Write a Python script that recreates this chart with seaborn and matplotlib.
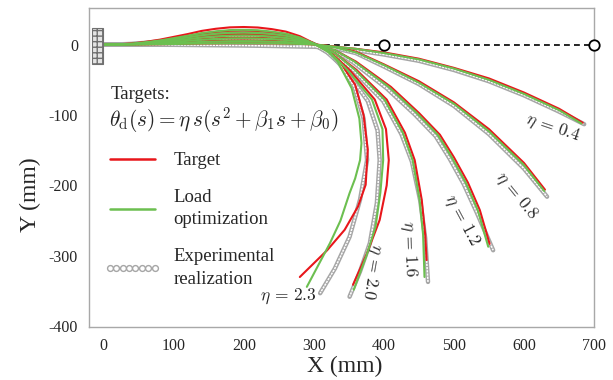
import numpy as np
import pandas as pd
import matplotlib
matplotlib.use("Agg")
import matplotlib.pyplot as plt
import seaborn as sns
from matplotlib.lines import Line2D
from matplotlib.patches import Rectangle

# ========================
# DATA (mm)
# ========================
ETAS = [0.4, 0.8, 1.2, 1.6, 2.0, 2.3]
BUMP_X = [0, 20, 40, 60, 80, 100, 120, 140, 160, 180, 200, 220, 240, 260, 280, 300]

# target curves (red)
target_bump = {
    0.4: [0, 0, 0.1, 0.3, 0.6, 0.9, 1.2, 1.6, 1.8, 2, 2, 1.9, 1.8, 1.5, 1, 0.2],
    0.8: [0, 0.1, 0.4, 1, 1.7, 2.6, 3.6, 4.7, 5.4, 5.9, 6, 5.8, 5.3, 4.4, 2.9, 0.5],
    1.2: [0, 0.2, 0.6, 1.6, 2.8, 4.4, 6, 7.8, 9, 9.8, 10, 9.7, 8.8, 7.4, 4.8, 0.8],
    1.6: [0, 0.3, 0.9, 2.4, 4.2, 6.6, 9, 11.7, 13.5, 14.7, 15, 14.6, 13.2, 11.1, 7.2, 1.2],
    2.0: [0, 0.4, 1.2, 3.2, 5.6, 8.8, 12, 15.6, 18, 19.6, 20, 19.4, 17.6, 14.8, 9.6, 1.6],
    2.3: [0, 0.5, 1.5, 4, 7, 11, 15, 19.5, 22.5, 24.5, 25, 24.3, 22, 18.5, 12, 2],
}
target_tail_x = {
    0.4: [330, 360, 400, 450, 500, 550, 600, 650, 684],
    0.8: [330, 360, 400, 450, 500, 550, 600, 630],
    1.2: [330, 360, 410, 450, 480, 500, 520, 537, 551],
    1.6: [330, 361, 404, 430, 444, 454, 459, 461],
    2.0: [325, 351, 387, 403, 407, 404, 394, 376, 356],
    2.3: [322, 337, 359, 371, 377, 374, 363, 344, 319, 280],
}
target_tail_y = {
    0.4: [-3, -6, -11, -20, -33, -48, -68, -91, -111],
    0.8: [-3, -10, -28, -52, -82, -120, -168, -206],
    1.2: [-8, -24, -60, -97, -128, -160, -196, -235, -283],
    1.6: [-12, -36, -78, -125, -164, -220, -270, -306],
    2.0: [-12, -36, -78, -120, -164, -200, -249, -296, -341],
    2.3: [-10, -24, -57, -100, -149, -199, -230, -263, -292, -330],
}

# load optimization curves (green)
load_bump = {
    0.4: [0, 0, 0.1, 0.3, 0.6, 0.9, 1.2, 1.6, 1.8, 2, 2, 1.9, 1.8, 1.5, 1, 0.2],
    0.8: [0, 0.1, 0.3, 0.8, 1.4, 2.2, 3, 3.9, 4.5, 4.9, 5, 4.9, 4.4, 3.7, 2.4, 0.4],
    1.2: [0, 0.2, 0.5, 1.4, 2.5, 4, 5.4, 7, 8.1, 8.8, 9, 8.7, 7.9, 6.7, 4.3, 0.7],
    1.6: [0, 0.3, 0.8, 2.1, 3.6, 5.7, 7.8, 10.1, 11.7, 12.7, 13, 12.6, 11.4, 9.6, 6.2, 1],
    2.0: [0, 0.3, 1, 2.7, 4.8, 7.5, 10.2, 13.3, 15.3, 16.7, 17, 16.5, 15, 12.6, 8.2, 1.4],
    2.3: [0, 0.4, 1.3, 3.4, 5.9, 9.2, 12.6, 16.4, 18.9, 20.6, 21, 20.4, 18.5, 15.5, 10.1, 1.7],
}
load_tail_x = {
    0.4: [330, 360, 400, 450, 500, 550, 600, 650, 682],
    0.8: [330, 360, 400, 450, 500, 550, 600, 629],
    1.2: [330, 358, 407, 447, 477, 497, 517, 534, 549],
    1.6: [330, 359, 401, 427, 441, 451, 456, 458],
    2.0: [324, 348, 383, 398, 399, 395, 388, 375, 357],
    2.3: [320, 334, 354, 365, 368, 366, 359, 351, 338, 323, 290],
}
load_tail_y = {
    0.4: [-3, -6, -12, -21, -34, -50, -70, -93, -112],
    0.8: [-4, -11, -29, -54, -84, -123, -171, -208],
    1.2: [-8, -24, -60, -97, -128, -160, -196, -235, -287],
    1.6: [-12, -36, -78, -125, -164, -220, -270, -330],
    2.0: [-12, -36, -78, -120, -164, -210, -259, -300, -348],
    2.3: [-10, -24, -62, -105, -140, -164, -190, -211, -250, -282, -344],
}

# experimental realization (grey circles)
exp_bump = {
    0.4: [0, 0, 0, -0.1, -0.2, -0.3, -0.5, -0.7, -0.9, -1.1, -1.3, -1.6, -1.9, -2.3, -2.7, -3],
    0.8: [0, 0, 0.1, 0.3, 0.6, 0.9, 1.2, 1.6, 1.8, 2, 2, 1.8, 1.4, 0.8, -0.3, -1.5],
    1.2: [0, 0.1, 0.3, 0.8, 1.4, 2.2, 3, 3.9, 4.5, 4.9, 5, 4.8, 4.3, 3.4, 1.8, -0.5],
    1.6: [0, 0.2, 0.5, 1.3, 2.2, 3.5, 4.8, 6.2, 7.2, 7.8, 8, 7.8, 7, 5.9, 3.6, 0],
    2.0: [0, 0.2, 0.7, 1.9, 3.4, 5.3, 7.2, 9.4, 10.8, 11.8, 12, 11.7, 10.6, 8.9, 5.8, 0.5],
    2.3: [0, 0.3, 1, 2.6, 4.5, 7, 9.6, 12.5, 14.4, 15.7, 16, 15.6, 14.1, 11.8, 7.7, 0.5],
}
exp_tail_x = {
    0.4: [330, 360, 400, 450, 500, 550, 600, 650, 686],
    0.8: [330, 360, 400, 450, 500, 550, 600, 633],
    1.2: [330, 356, 404, 444, 474, 494, 514, 532, 556],
    1.6: [328, 357, 399, 425, 440, 452, 459, 463],
    2.0: [322, 345, 377, 391, 394, 390, 380, 366, 351],
    2.3: [319, 336, 358, 371, 376, 366, 351, 330, 309],
}
exp_tail_y = {
    0.4: [-5, -8, -14, -23, -36, -52, -72, -95, -113],
    0.8: [-5, -12, -31, -56, -87, -127, -176, -216],
    1.2: [-9, -25, -62, -99, -130, -162, -198, -237, -292],
    1.6: [-13, -37, -80, -127, -166, -222, -275, -337],
    2.0: [-12, -36, -80, -122, -164, -225, -282, -322, -358],
    2.3: [-11, -26, -60, -105, -164, -220, -273, -318, -353],
}

# eta labels: position (mm) and rotation (deg)
label_x = [641, 589, 511, 436, 383, 263]
label_y = [-118, -215, -250, -290, -323, -358]
label_rot = [-19, -51, -62, -88, -100, 0]

REF_X = [0, 700]
PIN_X = [400, 700]

RED = "#e8161b"
GREEN = "#6cbf50"
GREY = "#a6a6a6"
SPINE = "#a8a8a8"


def build_frame(bump, tail_x, tail_y):
    rows = []
    for eta in ETAS:
        xs = BUMP_X + tail_x[eta]
        ys = bump[eta] + tail_y[eta]
        for i, (x, y) in enumerate(zip(xs, ys)):
            rows.append({"eta": eta, "order": i, "x": x, "y": y})
    return pd.DataFrame(rows)


df_target = build_frame(target_bump, target_tail_x, target_tail_y)
df_load = build_frame(load_bump, load_tail_x, load_tail_y)
df_exp = build_frame(exp_bump, exp_tail_x, exp_tail_y)

# ========================
# PLOT
# ========================
sns.set_theme(style="white")
plt.rcParams["font.family"] = ["Liberation Serif", "DejaVu Serif"]
plt.rcParams["mathtext.fontset"] = "cm"
plt.rcParams["axes.unicode_minus"] = False

fig = plt.figure(figsize=(6.13, 3.80), dpi=100)
ax = fig.add_axes([89 / 613, 1 - 327 / 380, 505 / 613, 319 / 380])

# reference line and pins
ax.plot(REF_X, [0, 0], color="black", lw=1.2, ls=(0, (3.5, 2.5)), zorder=1)
ax.plot(PIN_X, [0, 0], ls="none", marker="o", ms=7.5, mfc="white",
        mec="black", mew=1.3, zorder=6, clip_on=False)

# clamp
ax.add_patch(Rectangle((-17, -27), 16, 50, facecolor="#e4e4e4",
                       edgecolor="#707070", lw=0.8, hatch="+++", zorder=5))

common = dict(x="x", y="y", units="eta", estimator=None, sort=False,
              legend=False, ax=ax)
sns.lineplot(data=df_exp, color=GREY, lw=3.2, zorder=2, **common)
sns.lineplot(data=df_exp, color="white", lw=1.1, ls=(0, (1.5, 0.6)),
             zorder=2.1, **common)
sns.lineplot(data=df_target, color=RED, lw=1.5, zorder=3, **common)
sns.lineplot(data=df_load, color=GREEN, lw=1.5, zorder=4, **common)

for eta, lx, ly, rot in zip(ETAS, label_x, label_y, label_rot):
    ax.text(lx, ly, rf"$\eta\,=\,{eta}$", fontsize=12.5, rotation=rot,
            ha="center", va="center", rotation_mode="anchor")

ax.set_xlim(-21, 700)
ax.set_ylim(-401, 52)
ax.set_xticks(np.arange(0, 701, 100))
ax.set_yticks(np.arange(-400, 1, 100))
ax.tick_params(direction="in", length=4, width=1, color=SPINE,
               labelsize=11.5, pad=8)
for s in ax.spines.values():
    s.set_color(SPINE)
    s.set_linewidth(1)

ax.set_xlabel("X (mm)", fontsize=17)
ax.set_ylabel("Y (mm)", fontsize=17)
ax.xaxis.set_label_coords(0.507, -0.091)
ax.yaxis.set_label_coords(-0.094, 0.414)

# legend block
ax.text(0.043, 0.73, "Targets:", transform=ax.transAxes, fontsize=13.5,
        ha="left", va="center")
ax.text(0.04, 0.649, r"$\theta_{\rm d}(s) = \eta\, s(s^2+\beta_1 s+\beta_0)$",
        transform=ax.transAxes, fontsize=15.3, ha="left", va="center")

handles = [
    Line2D([], [], color=RED, lw=1.8),
    Line2D([], [], color=GREEN, lw=1.8),
    Line2D([], [], ls="none", marker="o", ms=4.2, mfc="white", mec=GREY, mew=1),
]
labels = ["Target", "Load\noptimization", "Experimental\nrealization"]
leg = ax.legend(handles, labels, loc="upper left", bbox_to_anchor=(0.030, 0.548),
                frameon=False, fontsize=13.5, handlelength=3.0, handletextpad=0.7,
                labelspacing=1.05, numpoints=8, borderaxespad=0, borderpad=0)
for t in leg.get_texts():
    t.set_linespacing(1.42)

fig.savefig("out.png", dpi=100)
